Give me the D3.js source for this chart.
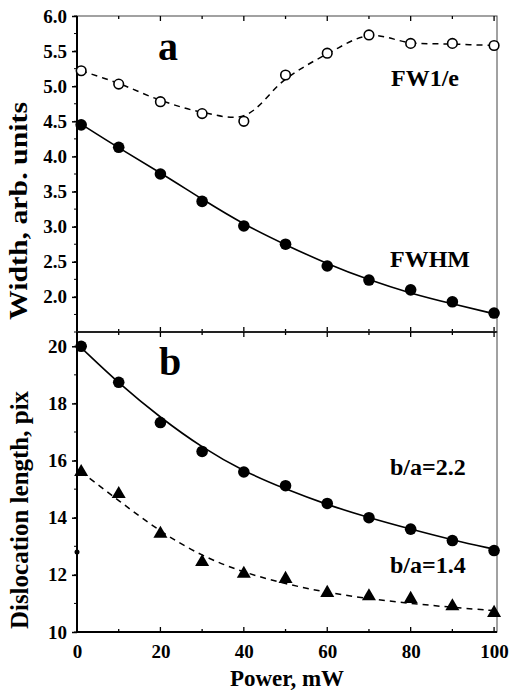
<!DOCTYPE html>
<html>
<head>
<meta charset="utf-8">
<script src="https://cdn.jsdelivr.net/npm/d3@7"></script>
<style>
  body { margin: 0; background: #fff; }
  text { font-family: "Liberation Serif", "Times New Roman", serif; font-weight: bold; fill: #000; }
</style>
</head>
<body>
<div id="plot"></div>
<script>
// Power values (mW), shared by every series
var power = [1, 10, 20, 30, 40, 50, 60, 70, 80, 90, 100];

// panel a: widths
var fw1e = [5.22, 5.03, 4.78, 4.61, 4.50, 5.16, 5.47, 5.73, 5.61, 5.61, 5.58];
var fw1eLine = [5.22, 5.04, 4.80, 4.63, 4.58, 5.10, 5.46, 5.72, 5.62, 5.60, 5.58];
var fwhm = [4.45, 4.13, 3.75, 3.36, 3.01, 2.75, 2.44, 2.24, 2.10, 1.93, 1.77];
var fwhmFit = [4.46, 4.12, 3.77, 3.39, 3.03, 2.74, 2.47, 2.24, 2.05, 1.90, 1.76];

// panel b: dislocation length
var ba22 = [20.0, 18.74, 17.33, 16.32, 15.6, 15.12, 14.5, 14.0, 13.6, 13.2, 12.85];
var ba22Fit = [19.95, 18.70, 17.50, 16.45, 15.62, 15.00, 14.45, 14.00, 13.60, 13.22, 12.90];
var ba14 = [15.6, 14.83, 13.44, 12.45, 12.04, 11.86, 11.37, 11.25, 11.16, 10.9, 10.67];
var ba14Fit = [15.6, 14.60, 13.50, 12.65, 12.08, 11.68, 11.38, 11.16, 11.00, 10.86, 10.75];
var strayDot = [{x: 0, y: 12.8}];

// tick values
var xTicks = [0, 20, 40, 60, 80, 100];
var topTicks = [2.0, 2.5, 3.0, 3.5, 4.0, 4.5, 5.0, 5.5, 6.0];
var botTicks = [10, 12, 14, 16, 18, 20];

var svgWidth = 510;
var svgHeight = 691;
var serif = "'Liberation Serif', 'Times New Roman', serif";

var margin = {top: 16, left: 77};
var width = 420;
var topHeight = 316;
var botHeight = 300;

var svg = d3.select("#plot")
  .append("svg")
  .attr("width", svgWidth)
  .attr("height", svgHeight);

var x = d3.scaleLinear().domain([0, 100.7]).range([0, width]);
var yTop = d3.scaleLinear().domain([1.5, 6.0]).range([topHeight, 0]);
var yBot = d3.scaleLinear().domain([10, 20.5]).range([botHeight, 0]);

var topGroup = svg.append("g")
  .attr("transform", `translate(${margin.left}, ${margin.top})`);
var botGroup = svg.append("g")
  .attr("transform", `translate(${margin.left}, ${margin.top + topHeight})`);

function pairs(xs, ys) {
  return xs.map((d, i) => ({x: d, y: ys[i]}));
}

// draw frame, ticks and tick labels for one panel
function drawPanel(g, yScale, height, majors, minorStep, fmt) {
  // thin top / right border
  g.append("rect")
    .attr("x", 0).attr("y", 0)
    .attr("width", width).attr("height", height)
    .attr("fill", "none")
    .attr("stroke", "#444")
    .attr("stroke-width", 1);

  // left axis
  var minors = d3.range(yScale.domain()[0], yScale.domain()[1] + 1e-9, minorStep);
  var leftAxis = d3.axisLeft(yScale).tickValues(majors).tickFormat(fmt).tickSize(5).tickPadding(5);
  var ax = g.append("g").call(leftAxis)
    .attr("font-family", serif)
    .attr("font-size", 19);
  ax.select(".domain").attr("stroke-width", 2).attr("d", `M0,0V${height}`);
  ax.selectAll(".tick line").attr("stroke-width", 1.5);
  ax.selectAll(".tick text")
    .style("font-size", "19px")
    .style("font-family", serif)
    .style("font-weight", "bold");

  g.append("g").selectAll("line")
    .data(minors)
    .enter()
    .append("line")
    .attr("x1", -3).attr("x2", 0)
    .attr("y1", d => yScale(d)).attr("y2", d => yScale(d))
    .attr("stroke", "#000").attr("stroke-width", 1);

  // x ticks inward at bottom and top
  var xt = d3.range(0, 101, 10);
  g.append("g").selectAll("line")
    .data(xt)
    .enter()
    .append("line")
    .attr("x1", d => x(d)).attr("x2", d => x(d))
    .attr("y1", height).attr("y2", d => height - (d % 20 === 0 ? 5 : 3))
    .attr("stroke", "#000").attr("stroke-width", 1.3);
  g.append("g").selectAll("line")
    .data(xt)
    .enter()
    .append("line")
    .attr("x1", d => x(d)).attr("x2", d => x(d))
    .attr("y1", 0).attr("y2", d => (d % 20 === 0 ? 5 : 3))
    .attr("stroke", "#000").attr("stroke-width", 1.3);

  // thick bottom line
  g.append("line")
    .attr("x1", 0).attr("x2", width)
    .attr("y1", height).attr("y2", height)
    .attr("stroke", "#000").attr("stroke-width", 2);
}

drawPanel(topGroup, yTop, topHeight, topTicks, 0.25, d3.format(".1f"));
drawPanel(botGroup, yBot, botHeight, botTicks, 1, d3.format("d"));

// bottom x tick labels
var bottomAxis = d3.axisBottom(x).tickValues(xTicks).tickSize(0).tickPadding(13);
var xAxis = botGroup.append("g")
  .attr("transform", `translate(0, ${botHeight})`)
  .call(bottomAxis)
  .attr("font-family", serif)
  .attr("font-size", 19);
xAxis.select(".domain").remove();
xAxis.selectAll(".tick text")
  .style("font-size", "19px")
  .style("font-family", serif)
  .style("font-weight", "bold");

// lines
var lineTop = d3.line().x(d => x(d.x)).y(d => yTop(d.y));
var lineBot = d3.line().x(d => x(d.x)).y(d => yBot(d.y));

topGroup.append("path")
  .datum(pairs(power, fw1eLine))
  .attr("d", lineTop.curve(d3.curveCatmullRom.alpha(0.5)))
  .attr("fill", "none").attr("stroke", "#000")
  .attr("stroke-width", 1.5).attr("stroke-dasharray", "6,5");

topGroup.append("path")
  .datum(pairs(power, fwhmFit))
  .attr("d", d3.line().x(d => x(d.x)).y(d => yTop(d.y)).curve(d3.curveBasis))
  .attr("fill", "none").attr("stroke", "#000").attr("stroke-width", 1.6);

botGroup.append("path")
  .datum(pairs(power, ba22Fit))
  .attr("d", lineBot.curve(d3.curveBasis))
  .attr("fill", "none").attr("stroke", "#000").attr("stroke-width", 1.6);

botGroup.append("path")
  .datum(pairs(power, ba14Fit))
  .attr("d", d3.line().x(d => x(d.x)).y(d => yBot(d.y)).curve(d3.curveBasis))
  .attr("fill", "none").attr("stroke", "#000")
  .attr("stroke-width", 1.5).attr("stroke-dasharray", "6,5");

// markers
topGroup.selectAll(".open")
  .data(pairs(power, fw1e))
  .enter()
  .append("circle")
  .attr("class", "open")
  .attr("cx", d => x(d.x)).attr("cy", d => yTop(d.y))
  .attr("r", 4.8)
  .attr("fill", "#fff").attr("stroke", "#000").attr("stroke-width", 1.6);

topGroup.selectAll(".filled")
  .data(pairs(power, fwhm))
  .enter()
  .append("circle")
  .attr("class", "filled")
  .attr("cx", d => x(d.x)).attr("cy", d => yTop(d.y))
  .attr("r", 5.8)
  .attr("fill", "#000");

botGroup.selectAll(".filled")
  .data(pairs(power, ba22))
  .enter()
  .append("circle")
  .attr("class", "filled")
  .attr("cx", d => x(d.x)).attr("cy", d => yBot(d.y))
  .attr("r", 5.8)
  .attr("fill", "#000");

var tri = d3.symbol().type(d3.symbolTriangle).size(85);
botGroup.selectAll(".tri")
  .data(pairs(power, ba14))
  .enter()
  .append("path")
  .attr("class", "tri")
  .attr("d", tri)
  .attr("transform", d => `translate(${x(d.x)}, ${yBot(d.y)})`)
  .attr("fill", "#000");

botGroup.selectAll(".stray")
  .data(strayDot)
  .enter()
  .append("circle")
  .attr("class", "stray")
  .attr("cx", d => x(d.x)).attr("cy", d => yBot(d.y))
  .attr("r", 2.5)
  .attr("fill", "#000");

// panel letters and series labels
svg.append("text").attr("x", 158).attr("y", 60).style("font-size", "40px").text("a");
svg.append("text").attr("x", 159).attr("y", 375).style("font-size", "40px").text("b");
svg.append("text").attr("x", 391).attr("y", 86).style("font-size", "24px").text("FW1/e");
svg.append("text").attr("x", 390).attr("y", 267).style("font-size", "24px").text("FWHM");
svg.append("text").attr("x", 390).attr("y", 475).style("font-size", "24px").text("b/a=2.2");
svg.append("text").attr("x", 390).attr("y", 573).style("font-size", "24px").text("b/a=1.4");

// axis titles
svg.append("text")
  .attr("text-anchor", "middle")
  .attr("x", 287).attr("y", 686)
  .style("font-size", "23px")
  .text("Power, mW");

svg.append("text")
  .attr("transform", "rotate(-90)")
  .attr("text-anchor", "middle")
  .attr("x", -211).attr("y", 27)
  .attr("textLength", 218)
  .attr("lengthAdjust", "spacingAndGlyphs")
  .style("font-size", "26px")
  .text("Width, arb. units");

svg.append("text")
  .attr("transform", "rotate(-90)")
  .attr("text-anchor", "middle")
  .attr("x", -510).attr("y", 28)
  .style("font-size", "25px")
  .text("Dislocation length, pix");
</script>
</body>
</html>
